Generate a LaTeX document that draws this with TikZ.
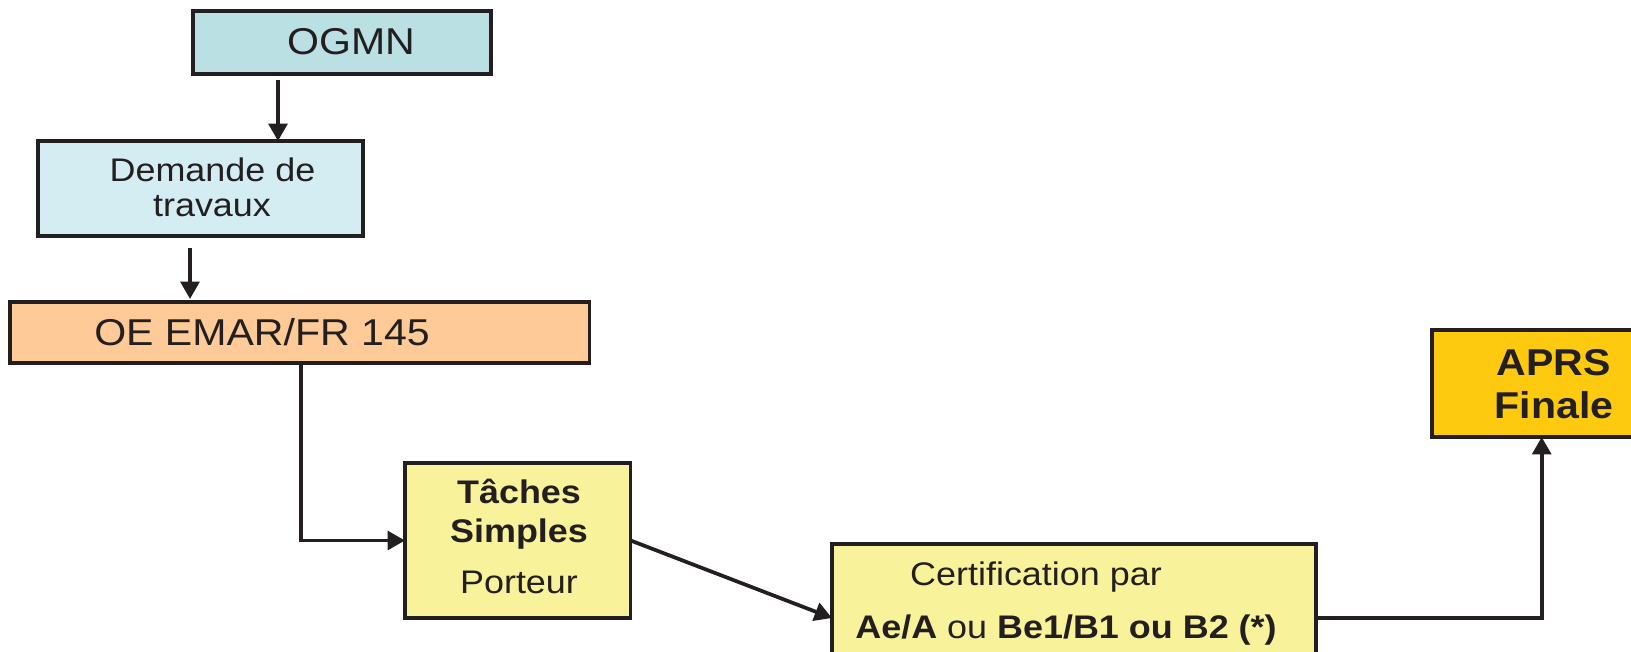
\documentclass[tikz,border=0pt]{standalone}
\usepackage{fontspec}
\setmainfont{Liberation Sans}[FakeStretch=1.1]
\usetikzlibrary{arrows.meta,calc}
\definecolor{ink}{HTML}{231F20}
\definecolor{cOG}{HTML}{BBE0E3}
\definecolor{cDem}{HTML}{D4EDF3}
\definecolor{cOE}{HTML}{FDCA98}
\definecolor{cYel}{HTML}{F8F39B}
\definecolor{cAPRS}{HTML}{FDCA10}
\begin{document}
\begin{tikzpicture}[x=0.75pt,y=-0.75pt,
  box/.style={draw=ink,line width=2.4pt,inner sep=0pt,outer sep=0pt},
  txt/.style={anchor=base,inner sep=0pt,outer sep=0pt,text=ink},
  big/.style={font=\fontsize{28}{30}\selectfont},
  mid/.style={font=\fontsize{24.5}{26}\selectfont},
  midb/.style={font=\fontsize{24.5}{26}\selectfont\bfseries},
  bigb/.style={font=\fontsize{28}{30}\selectfont\bfseries},
  arr/.style={draw=ink,line width=2.8pt,-{Triangle[length=13pt,width=14pt]}}]
\useasboundingbox (0,0) rectangle (1631,652);
\clip (0,0) rectangle (1631,652);
% boxes
\node[box,fill=cOG,minimum width=298*0.75pt,minimum height=63*0.75pt] (ogmn) at (342,42.5) {};
\node[box,fill=cDem,minimum width=325*0.75pt,minimum height=95*0.75pt] (dem) at (200.5,188.5) {};
\node[box,fill=cOE,minimum width=579.5*0.75pt,minimum height=61*0.75pt] (oe) at (299.75,332.5) {};
\node[box,fill=cYel,minimum width=225.7*0.75pt,minimum height=155*0.75pt] (tach) at (517.85,540.5) {};
\node[box,fill=cYel,minimum width=484*0.75pt,minimum height=148*0.75pt] (cert) at (1074,618) {};
\node[box,fill=cAPRS,minimum width=219.4*0.75pt,minimum height=107*0.75pt] (aprs) at (1541.7,383.5) {};
% texts
\node[txt,big] (tOG) at (351,55) {OGMN};
\node[txt,mid] (tDem1) at (212.5,182) {Demande de};
\node[txt,mid] (tDem2) at (212,217) {travaux};
\node[txt,big] (tOE) at (262,345) {OE EMAR/FR 145};
\node[txt,midb] (tT1) at (519,503) {Tâches};
\node[txt,midb] (tT2) at (519,542) {Simples};
\node[txt,mid] (tT3) at (519,593) {Porteur};
\node[txt,mid] (tC1) at (1036,585) {Certification par};
\node[txt,mid] (tC2) at (1066,638) {{\bfseries Ae/A} ou {\bfseries Be1/B1 ou B2 (*)}};
\node[txt,bigb] (tA1) at (1553.5,375) {APRS};
\node[txt,bigb] (tA2) at (1554,418) {Finale};
% connectors
\draw[arr] ($(ogmn.south)+(-64,6)$) -- ($(dem.north)+(77.5,0)$);
\draw[arr] ($(dem.south)+(-10.5,12)$) -- ($(oe.north)+(-109.75,-3)$);
\draw[arr] ($(oe.south)+(1,0)$) |- (tach.west);
\draw[arr] (tach.east) -- (cert.west);
\draw[arr] (cert.east) -| (aprs.south);
\end{tikzpicture}
\end{document}
